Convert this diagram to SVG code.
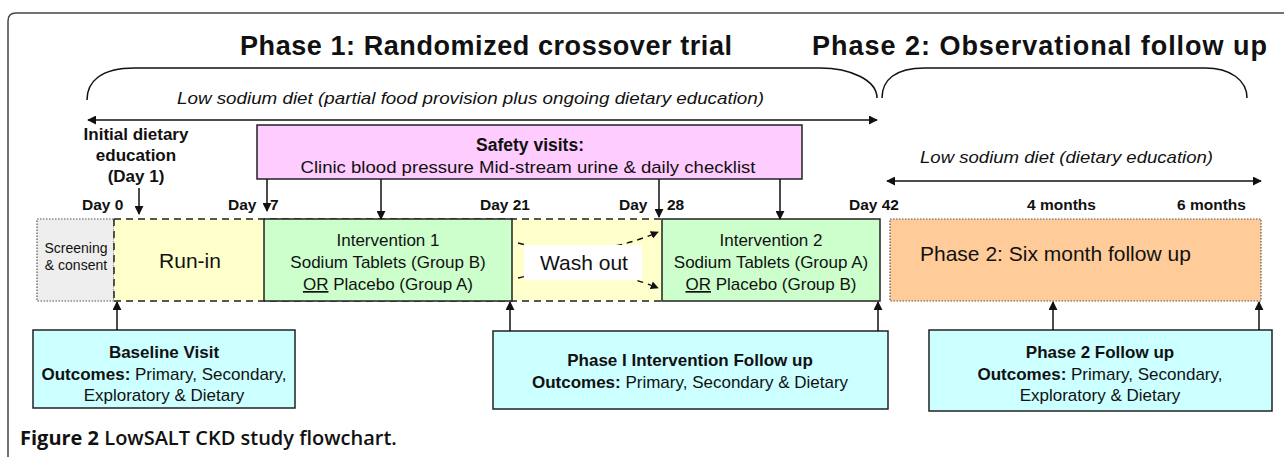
<svg xmlns="http://www.w3.org/2000/svg" width="1284" height="457" viewBox="0 0 1284 457">
<defs>
<marker id="ah" viewBox="0 0 10 10" refX="9" refY="5" markerWidth="9" markerHeight="9" markerUnits="userSpaceOnUse" orient="auto-start-reverse"><path d="M0,0 L10,5 L0,10 z" fill="#111"/></marker>
<marker id="ahs" viewBox="0 0 10 10" refX="9" refY="5" markerWidth="8" markerHeight="8" markerUnits="userSpaceOnUse" orient="auto"><path d="M0,0 L10,5 L0,10 z" fill="#111"/></marker>
</defs>
<style>
text{font-family:"Liberation Sans",Arial,sans-serif;fill:#111}
.title{font-size:27px;font-weight:bold}
.it{font-size:17px;font-style:italic}
.b15{font-size:15.5px;font-weight:bold}
.bb{font-size:17px;font-weight:bold}
.t17{font-size:17px}
.big{font-size:21px}
.c{text-anchor:middle}
.ln{stroke:#111;stroke-width:1.5;fill:none}
.box{stroke:#222;stroke-width:1.5}
.cap{font-family:"Open Sans","Liberation Sans",sans-serif;font-size:20px}
</style>
<rect width="1284" height="457" fill="#fff"/>
<path d="M8,457 V21 Q8,13 16,13 H1284" fill="none" stroke="#444" stroke-width="1.5"/>
<text class="title" x="240" y="55" textLength="492" lengthAdjust="spacing">Phase 1: Randomized crossover trial</text>
<text class="title" x="812" y="55" textLength="455" lengthAdjust="spacing">Phase 2: Observational follow up</text>
<g id="braces">
<path class="ln" d="M87,100 C87,82 100,68 135,68 L820,68 C850,68 877,80 877,98"/>
<path class="ln" d="M882,98 C882,80 895,68 925,68 L1205,68 C1230,68 1247,80 1247,98"/>
</g>
<text class="it" x="177" y="104" textLength="587" lengthAdjust="spacingAndGlyphs">Low sodium diet (partial food provision plus ongoing dietary education)</text>
<text class="it" x="920" y="163" textLength="293" lengthAdjust="spacingAndGlyphs">Low sodium diet (dietary education)</text>
<g id="initial">
<text class="bb c" x="136" y="140">Initial dietary</text>
<text class="bb c" x="136" y="161">education</text>
<text class="bb c" x="136" y="182">(Day 1)</text>
</g>
<g id="safety">
<rect class="box" x="257" y="125" width="545" height="54" fill="#FFCCFF"/>
<text class="c" x="530" y="151" style="font-size:17.5px;font-weight:bold">Safety visits:</text>
<text class="t17 c" x="528" y="173" textLength="455" lengthAdjust="spacingAndGlyphs">Clinic blood pressure Mid-stream urine &amp; daily checklist</text>
</g>
<g id="days">
<text class="b15" x="82" y="210">Day 0</text>
<text class="b15" x="228" y="210">Day</text>
<text class="b15" x="270" y="210">7</text>
<text class="b15" x="480" y="210">Day 21</text>
<text class="b15" x="619" y="210">Day</text>
<text class="b15" x="667" y="210">28</text>
<text class="b15" x="849" y="210">Day 42</text>
<text class="b15" x="1027" y="210">4 months</text>
<text class="b15" x="1177" y="210">6 months</text>
</g>
<g id="screening">
<rect x="37" y="219" width="77" height="82" fill="#EEEEEE" stroke="#555" stroke-width="1.2" stroke-dasharray="1.5,1.5"/>
<text class="c" x="76" y="253" style="font-size:14px">Screening</text>
<text class="c" x="76" y="270" style="font-size:14px">&amp; consent</text>
</g>
<g id="runin-washout-band">
<rect x="114" y="219" width="548" height="82" fill="#FFFFCC"/>
<path d="M114,219 H662 M114,301 H662 M114,219 V301" stroke="#222" stroke-width="1.5" stroke-dasharray="7,5" fill="none"/>
</g>
<g id="runin">
<text class="big c" x="190" y="268">Run-in</text>
</g>
<g id="int1">
<rect class="box" x="264" y="219" width="248" height="82" fill="#CCFFCC"/>
<text class="t17 c" x="388" y="246">Intervention 1</text>
<text class="t17 c" x="388" y="268">Sodium Tablets (Group B)</text>
<text class="t17 c" x="388" y="290"><tspan text-decoration="underline">OR</tspan> Placebo (Group A)</text>
</g>
<g id="washout">
<path d="M518,243 Q590,262 658,232" stroke="#111" stroke-width="1.4" stroke-dasharray="6,5" fill="none" marker-end="url(#ahs)"/>
<path d="M518,278 Q590,260 658,288" stroke="#111" stroke-width="1.4" stroke-dasharray="6,5" fill="none" marker-end="url(#ahs)"/>
<rect x="524" y="245" width="118" height="35" fill="#fff"/>
<text class="big c" x="584" y="270">Wash out</text>
</g>
<g id="int2">
<rect class="box" x="662" y="219" width="218" height="82" fill="#CCFFCC"/>
<text class="t17 c" x="771" y="246">Intervention 2</text>
<text class="t17 c" x="771" y="268">Sodium Tablets (Group A)</text>
<text class="t17 c" x="771" y="290"><tspan text-decoration="underline">OR</tspan> Placebo (Group B)</text>
</g>
<g id="phase2">
<rect x="890" y="219" width="371" height="82" fill="#FFCC99" stroke="#555" stroke-width="1.2" stroke-dasharray="1.5,1.5"/>
<text class="big" x="920" y="261">Phase 2: Six month follow up</text>
</g>
<g id="baseline">
<rect class="box" x="33" y="330" width="262" height="78" fill="#CCFFFF"/>
<text class="bb c" x="164" y="358">Baseline Visit</text>
<text class="t17 c" x="164" y="380"><tspan font-weight="bold">Outcomes:</tspan> Primary, Secondary,</text>
<text class="t17 c" x="164" y="401">Exploratory &amp; Dietary</text>
</g>
<g id="phase1fu">
<rect class="box" x="493" y="331" width="395" height="78" fill="#CCFFFF"/>
<text class="bb c" x="690" y="366">Phase I Intervention Follow up</text>
<text class="t17 c" x="690" y="388"><tspan font-weight="bold">Outcomes:</tspan> Primary, Secondary &amp; Dietary</text>
</g>
<g id="phase2fu">
<rect class="box" x="929" y="330" width="343" height="81" fill="#CCFFFF"/>
<text class="bb c" x="1100" y="358">Phase 2 Follow up</text>
<text class="t17 c" x="1100" y="380"><tspan font-weight="bold">Outcomes:</tspan> Primary, Secondary,</text>
<text class="t17 c" x="1100" y="401">Exploratory &amp; Dietary</text>
</g>
<g id="connectors">
<line class="ln" x1="88" y1="120" x2="877" y2="120" marker-start="url(#ah)" marker-end="url(#ah)"/>
<line class="ln" x1="887" y1="181" x2="1261" y2="181" marker-start="url(#ah)" marker-end="url(#ah)"/>
<line class="ln" x1="139" y1="188" x2="139" y2="214" marker-end="url(#ah)"/>
<line class="ln" x1="267" y1="179" x2="267" y2="211" marker-end="url(#ah)"/>
<line class="ln" x1="381" y1="179" x2="381" y2="219" marker-end="url(#ah)"/>
<line class="ln" x1="659" y1="179" x2="659" y2="217" marker-end="url(#ah)"/>
<line class="ln" x1="780" y1="179" x2="780" y2="219" marker-end="url(#ah)"/>
<line class="ln" x1="117" y1="330" x2="117" y2="302" marker-end="url(#ah)"/>
<line class="ln" x1="510" y1="331" x2="510" y2="302" marker-end="url(#ah)"/>
<line class="ln" x1="878" y1="331" x2="878" y2="302" marker-end="url(#ah)"/>
<line class="ln" x1="1053" y1="330" x2="1053" y2="302" marker-end="url(#ah)"/>
<line class="ln" x1="1259" y1="330" x2="1259" y2="302" marker-end="url(#ah)"/>
</g>
<text class="cap" x="20" y="445"><tspan font-weight="bold">Figure 2</tspan><tspan font-weight="600"> LowSALT CKD study flowchart.</tspan></text>
</svg>
